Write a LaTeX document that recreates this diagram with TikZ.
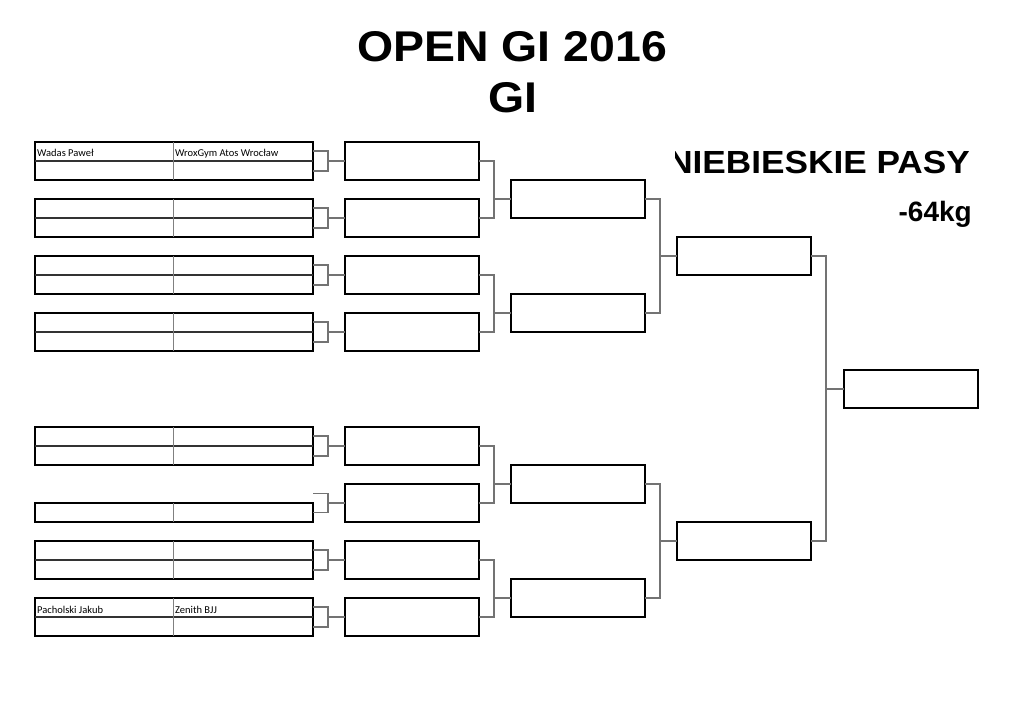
\documentclass[tikz,border=0pt]{standalone}
\usepackage{fontspec}
\usepackage{graphicx}
\setmainfont{Liberation Sans}[BoldFont={Liberation Sans Bold}]
\newfontfamily\headfont{Liberation Sans Bold}
\newfontfamily\cellfont{Carlito}
\tikzset{
  entry/.style={draw=black, line width=1.5pt, minimum width=278pt, minimum height=38pt, inner sep=0pt, outer sep=0pt},
  single/.style={entry, minimum height=19pt},
  innerh/.style={draw=black!80, line width=1.1pt},
  innerv/.style={draw=black!50, line width=1pt},
  matchbox/.style={draw=black, line width=2pt, minimum width=134pt, minimum height=38pt, inner sep=0pt, outer sep=0pt},
  conn/.style={draw=black!55, line width=1.2pt},
  cell/.style={font=\cellfont\fontsize{10.5pt}{12pt}\selectfont, anchor=base west, inner sep=0pt},
}
\begin{document}
\begin{tikzpicture}[x=1pt,y=-1pt]
\useasboundingbox (0,0) rectangle (1024,725);
\fill[white] (0,0) rectangle (1024,725);

% titles
\node[anchor=base, inner sep=0pt, font=\headfont\fontsize{43pt}{46pt}\selectfont] (t1) at (512,61) {\scalebox{1.08}[1]{OPEN GI 2016}};
\node[anchor=base, inner sep=0pt, font=\headfont\fontsize{43pt}{46pt}\selectfont] (t2) at (513,112) {\scalebox{1.08}[1]{GI}};
\begin{scope}
\clip (675,130) rectangle (1000,190);
\node[anchor=base east, inner sep=0pt, font=\headfont\fontsize{32pt}{36pt}\selectfont] (t3) at (970,173) {\scalebox{1.1}[1]{NIEBIESKIE PASY}};
\end{scope}
\node[anchor=base east, inner sep=0pt, font=\headfont\fontsize{28pt}{32pt}\selectfont] (t4) at (972,221) {-64kg};

% entries
\foreach \n/\y in {1/161,2/218,3/275,4/332,5/446,7/560,8/617}{
  \node[entry] (e\n) at (174,\y) {};
  \draw[innerh] (e\n.west) -- (e\n.east);
  \draw[innerv] ([xshift=-1pt]e\n.north) -- ([xshift=-1pt]e\n.south);
}
\node[single] (e6) at (174,512.5) {};
\draw[innerv] ([xshift=-1pt]e6.north) -- ([xshift=-1pt]e6.south);

\node[cell] (n1) at (37,156) {Wadas Paweł};
\node[cell] (c1) at (175,156) {WroxGym Atos Wrocław};
\node[cell] (n8) at (37,613) {Pacholski Jakub};
\node[cell] (c8) at (175,613) {Zenith BJJ};

% round 1
\foreach \n/\y in {1/161,2/218,3/275,4/332,5/446,6/503,7/560,8/617}{
  \node[matchbox] (r\n) at (412,\y) {};
}
% round 2
\foreach \n/\y in {1/199,2/313,3/484,4/598}{
  \node[matchbox] (s\n) at (578,\y) {};
}
% round 3
\node[matchbox] (q1) at (744,256) {};
\node[matchbox] (q2) at (744,541) {};
% final
\node[matchbox] (f) at (910.5,389) {};

% entry brackets
\foreach \n in {1,2,3,4,5,7,8}{
  \draw[conn] ([yshift=10pt]e\n.east) -- ++(15,0) -- ++(0,20) -- ++(-15,0);
  \draw[conn] (e\n.east) ++(15,0) -- (r\n.west);
}
\coordinate (free6) at (313,493.5);
\draw[conn] (e6.east) -- ++(15,0) |- (free6);
\draw[conn] (e6.east) ++(15,-9.5) -- (r6.west);

% round1 -> round2
\foreach \a/\b/\s in {1/2/1,3/4/2,5/6/3,7/8/4}{
  \draw[conn] (r\a.east) -- ++(15,0) coordinate (m\s) |- (r\b.east);
  \draw[conn] (m\s |- s\s.west) -- (s\s.west);
}
% round2 -> round3
\draw[conn] (s1.east) -- ++(15,0) coordinate (p1) |- (s2.east);
\draw[conn] (p1 |- q1.west) -- (q1.west);
\draw[conn] (s3.east) -- ++(15,0) coordinate (p2) |- (s4.east);
\draw[conn] (p2 |- q2.west) -- (q2.west);
% round3 -> final
\draw[conn] (q1.east) -- ++(15,0) coordinate (p3) |- (q2.east);
\draw[conn] (p3 |- f.west) -- (f.west);
\end{tikzpicture}
\end{document}
